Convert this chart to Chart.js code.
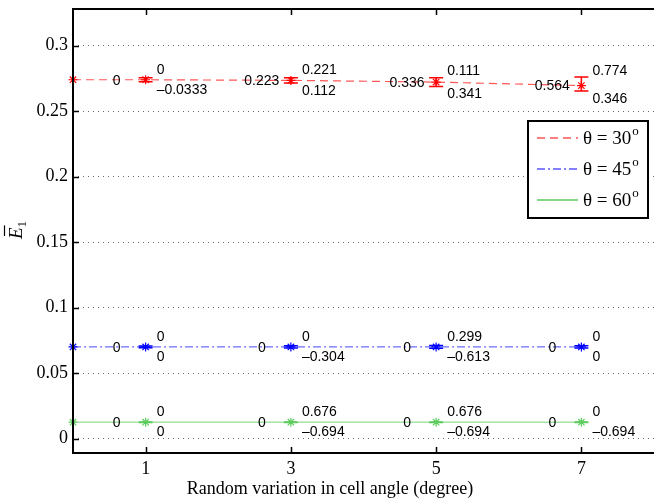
<!DOCTYPE html>
<html>
<head>
<meta charset="utf-8">
<script src="https://cdn.jsdelivr.net/npm/chart.js@4.4.0/dist/chart.umd.min.js"></script>
<style>
  html, body { margin: 0; padding: 0; background: #fff; }
  canvas { display: block; }
</style>
</head>
<body>
<canvas id="chart" width="654" height="498"></canvas>
<script>
// ---- data ----
const xValues = [0, 1, 3, 5, 7];
const xTicks = [1, 3, 5, 7];
const yTicks = [0, 0.05, 0.1, 0.15, 0.2, 0.25, 0.3];
const seriesAngles = ['30', '45', '60'];

const red30 = [0.274, 0.274, 0.2735, 0.2722, 0.2695];
const red30Low = [null, 0.2725, 0.2715, 0.2689, 0.2653];
const red30High = [null, 0.2755, 0.2756, 0.2756, 0.2760];

const blue45 = [0.07, 0.07, 0.07, 0.07, 0.07];
const blue45Low = [null, 0.0693, 0.0691, 0.0689, 0.0691];
const blue45High = [null, 0.0707, 0.0709, 0.0711, 0.0709];

const green60 = [0.0125, 0.0125, 0.0125, 0.0125, 0.0125];
const green60Low = [null, 0.0123, 0.0123, 0.0123, 0.0123];
const green60High = [null, 0.0127, 0.0127, 0.0127, 0.0127];

// text labels beside the points at x = 1, 3, 5, 7
const red30Left = ['0', '0.223', '0.336', '0.564'];
const red30Upper = ['0', '0.221', '0.111', '0.774'];
const red30Lower = ['\u20130.0333', '0.112', '0.341', '0.346'];

const blue45Left = ['0', '0', '0', '0'];
const blue45Upper = ['0', '0', '0.299', '0'];
const blue45Lower = ['0', '\u20130.304', '\u20130.613', '0'];

const green60Left = ['0', '0', '0', '0'];
const green60Upper = ['0', '0.676', '0.676', '0'];
const green60Lower = ['0', '\u20130.694', '\u20130.694', '\u20130.694'];

const SERIF = '"Liberation Serif", "DejaVu Serif", serif';
const SANS = '"Liberation Sans", Arial, sans-serif';

const toPoints = ys => xValues.map((x, i) => ({ x, y: ys[i] }));

const series = [
  { values: red30, low: red30Low, high: red30High, left: red30Left, upper: red30Upper, lower: red30Lower,
    mark: '#ff0000', line: 'rgba(255,30,30,0.75)', dash: [8, 5], width: 1.2 },
  { values: blue45, low: blue45Low, high: blue45High, left: blue45Left, upper: blue45Upper, lower: blue45Lower,
    mark: '#0000ff', line: 'rgba(70,70,255,0.8)', dash: [8, 3, 2, 3], width: 1.2 },
  { values: green60, low: green60Low, high: green60High, left: green60Left, upper: green60Upper, lower: green60Lower,
    mark: '#5ccc5c', line: '#a8e2a8', dash: [], width: 1.6 }
];

// ---- plugins ----
const errorBars = {
  id: 'errorBars',
  afterDatasetsDraw(chart) {
    const { ctx, scales: { x, y } } = chart;
    ctx.save();
    series.forEach(s => {
      ctx.strokeStyle = s.mark;
      ctx.lineWidth = 1.5;
      xValues.forEach((xv, i) => {
        if (s.low[i] == null) return;
        const px = x.getPixelForValue(xv);
        const lo = y.getPixelForValue(s.low[i]);
        const hi = y.getPixelForValue(s.high[i]);
        ctx.beginPath();
        ctx.moveTo(px, lo); ctx.lineTo(px, hi);
        ctx.moveTo(px - 7, lo); ctx.lineTo(px + 7, lo);
        ctx.moveTo(px - 7, hi); ctx.lineTo(px + 7, hi);
        ctx.stroke();
      });
    });
    ctx.restore();
  }
};

const decor = {
  id: 'decor',
  afterDraw(chart) {
    const { ctx, chartArea: a, scales: { x, y } } = chart;
    ctx.save();

    // value labels
    ctx.fillStyle = '#000';
    ctx.font = '14px ' + SANS;
    ctx.textBaseline = 'middle';
    series.forEach(s => {
      xTicks.forEach((xv, k) => {
        const i = xValues.indexOf(xv);
        const px = x.getPixelForValue(xv);
        const py = y.getPixelForValue(s.values[i]);
        const top = y.getPixelForValue(s.high[i]);
        const bot = y.getPixelForValue(s.low[i]);
        ctx.textAlign = 'center';
        ctx.fillText(s.left[k], x.getPixelForValue(xv - 0.4), py + 1);
        ctx.textAlign = 'left';
        ctx.fillText(s.upper[k], px + 11, Math.min(py - 10, top - 6));
        ctx.fillText(s.lower[k], px + 11, Math.max(py + 10, bot + 8));
      });
    });

    // axes box and inward ticks
    ctx.strokeStyle = '#000';
    ctx.lineWidth = 2;
    ctx.beginPath();
    ctx.moveTo(a.right + 2, a.top); ctx.lineTo(a.left, a.top);
    ctx.lineTo(a.left, a.bottom); ctx.lineTo(a.right + 2, a.bottom);
    ctx.stroke();
    ctx.lineWidth = 1.5;
    ctx.beginPath();
    xTicks.forEach(v => {
      const px = Math.round(x.getPixelForValue(v)) + 0.5;
      ctx.moveTo(px, a.bottom); ctx.lineTo(px, a.bottom - 6);
      ctx.moveTo(px, a.top); ctx.lineTo(px, a.top + 6);
    });
    yTicks.forEach(v => {
      const py = Math.round(y.getPixelForValue(v)) + 0.5;
      ctx.moveTo(a.left, py); ctx.lineTo(a.left + 6, py);
    });
    ctx.stroke();

    // axis titles
    ctx.fillStyle = '#000';
    ctx.font = '18px ' + SERIF;
    ctx.textAlign = 'center';
    ctx.textBaseline = 'middle';
    ctx.fillText('Random variation in cell angle (degree)', 330, 489);

    ctx.save();
    ctx.translate(16, 230);
    ctx.rotate(-Math.PI / 2);
    ctx.textAlign = 'left';
    ctx.textBaseline = 'alphabetic';
    ctx.font = 'italic 19px ' + SERIF;
    ctx.fillText('E', -9, 6);
    const ew = ctx.measureText('E').width;
    ctx.lineWidth = 1.2;
    ctx.beginPath();
    ctx.moveTo(-6, -11.5); ctx.lineTo(-6 + ew - 1, -11.5);
    ctx.stroke();
    ctx.font = '13px ' + SERIF;
    ctx.fillText('1', -9 + ew, 10);
    ctx.restore();

    // legend
    const box = { l: 528, t: 121, r: 648, b: 218 };
    ctx.fillStyle = '#fff';
    ctx.fillRect(box.l, box.t, box.r - box.l, box.b - box.t);
    ctx.strokeStyle = '#000';
    ctx.lineWidth = 2;
    ctx.strokeRect(box.l, box.t, box.r - box.l, box.b - box.t);
    const rows = [138, 169, 200];
    series.forEach((s, i) => {
      const yy = rows[i];
      ctx.strokeStyle = s.mark;
      ctx.lineWidth = s.width;
      ctx.setLineDash(s.dash);
      ctx.beginPath();
      ctx.moveTo(537, yy); ctx.lineTo(578, yy);
      ctx.stroke();
      ctx.setLineDash([]);
      ctx.fillStyle = '#000';
      ctx.font = '19px ' + SERIF;
      ctx.textAlign = 'left';
      ctx.textBaseline = 'middle';
      const txt = '\u03b8 = ' + seriesAngles[i];
      ctx.fillText(txt, 583, yy + 1);
      const w = ctx.measureText(txt).width;
      ctx.font = '13px ' + SERIF;
      ctx.fillText('o', 583 + w + 1, yy - 6);
    });

    ctx.restore();
  }
};

// ---- chart ----
new Chart(document.getElementById('chart'), {
  type: 'line',
  data: {
    datasets: series.map(s => ({
      data: toPoints(s.values),
      borderColor: s.line,
      borderWidth: s.width,
      borderDash: s.dash,
      pointStyle: 'star',
      pointRadius: 4.5,
      pointBorderWidth: 1.2,
      pointBorderColor: s.mark,
      pointBackgroundColor: s.mark,
      tension: 0,
      fill: false,
      clip: false
    }))
  },
  options: {
    responsive: false,
    animation: false,
    devicePixelRatio: 1,
    layout: { autoPadding: false, padding: { top: 9, right: 0, left: 0, bottom: 0 } },
    plugins: { legend: { display: false }, tooltip: { enabled: false } },
    scales: {
      x: {
        type: 'linear',
        min: 0,
        max: 8,
        afterBuildTicks: s => { s.ticks = xTicks.map(v => ({ value: v })); },
        afterFit: s => { s.height = 45; s.paddingLeft = 0; s.paddingRight = 0; },
        grid: { display: false, drawTicks: false },
        border: { display: false },
        ticks: { color: '#000', padding: 5, font: { family: SERIF, size: 18 }, maxRotation: 0 }
      },
      y: {
        type: 'linear',
        min: -0.011,
        max: 0.328,
        afterBuildTicks: s => { s.ticks = yTicks.map(v => ({ value: v })); },
        afterFit: s => { s.width = 73; s.paddingTop = 0; s.paddingBottom = 0; },
        grid: { color: '#666', lineWidth: 1, drawTicks: false },
        border: { display: false, dash: [1, 4] },
        ticks: {
          color: '#000', padding: 5, font: { family: SERIF, size: 18 },
          callback: v => String(+v.toFixed(2))
        }
      }
    }
  },
  plugins: [errorBars, decor]
});
</script>
</body>
</html>
